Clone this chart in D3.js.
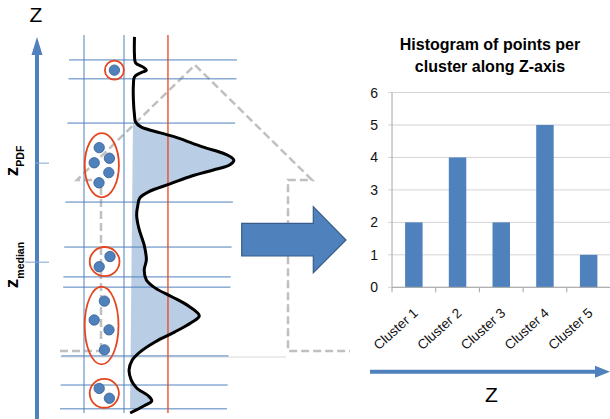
<!DOCTYPE html>
<html>
<head>
<meta charset="utf-8">
<script src="https://cdnjs.cloudflare.com/ajax/libs/d3/7.8.5/d3.min.js"></script>
<style>
body { margin: 0; background: #fff; }
svg { display: block; font-family: "Liberation Sans", Arial, sans-serif; }
</style>
</head>
<body>
<script>

// histogram values
var clusterNames = ["Cluster 1", "Cluster 2", "Cluster 3", "Cluster 4", "Cluster 5"];
var pointCounts = [2, 4, 2, 5, 1];
var countTicks = [0, 1, 2, 3, 4, 5, 6];

// points of each cluster: [z, spread across the column (-1..1)]
var clusterPoints = [
    [[0.65, -0.24], [0.39, 0.27]],
    [[2.96, 0.02], [2.46, -0.49], [2.20, 0.25], [1.67, 0.02]],
    [[4.14, 0.30], [3.87, -0.24]],
    [[7.02, -0.24], [6.62, -0.49], [6.74, 0.27], [6.36, 0.24], [6.09, -0.25]],
    [[9.07, 0.52]]
];

// bin edges of each cluster along z
var clusterBins = [[0.11, 0.74], [1.51, 3.33], [3.60, 4.39], [5.58, 7.67], [8.84, 9.34]];

// PDF sampled along z
var pdfZ = [9.95, 9.47, 9.26, 9.15, 9.07, 8.99, 8.89, 8.68, 8.28, 7.88, 7.70, 7.57, 7.41, 7.28,
            7.04, 6.85, 6.69, 6.56, 6.43, 6.27, 6.06, 5.85, 5.69, 5.48, 5.24, 4.89, 4.44, 4.05,
            3.78, 3.52, 3.31, 3.07, 2.83, 2.57, 2.38, 2.14, 1.88, 1.61, 1.40, 1.14, 0.87, 0.66,
            0.45, 0.32, 0.19, 0.00];
var pdfDensity = [0.06, 0.06, 0.07, 0.14, 0.17, 0.11, 0.06, 0.05, 0.05, 0.06, 0.07, 0.12, 0.30, 0.46,
                  0.69, 0.90, 0.98, 0.94, 0.79, 0.59, 0.39, 0.19, 0.11, 0.09, 0.08, 0.10, 0.15, 0.17,
                  0.15, 0.17, 0.25, 0.41, 0.56, 0.66, 0.58, 0.43, 0.25, 0.11, 0.04, 0.01, 0.03, 0.08,
                  0.19, 0.22, 0.15, 0.02];

var zPdf = 6.61, zMedian = 3.99;
var densityCut = 0.37;
var shadeZ = [0.11, 7.67];
var shadeBase = [0.019, 0.046];

var blue = "#4f81bd", red = "#e5461f", gray = "#c0c0c0";

var svg = d3.select("body").append("svg").attr("width", 610).attr("height", 419);

// ---------- left panel ----------
var z = d3.scaleLinear().domain([0, 10]).range([413, 35]);
var dens = d3.scaleLinear().domain([0, 1]).range([128, 236]);
var spread = d3.scaleLinear().domain([-1, 1]).range([84, 124]);

// dashed outline behind everything
svg.append("line").attr("x1", 60).attr("x2", 286).attr("y1", 357).attr("y2", 357)
    .attr("stroke", "#d9d9d9");
var dash = svg.append("g").attr("fill", "none").attr("stroke", gray)
    .attr("stroke-width", 2.5).attr("stroke-dasharray", "8,4");
dash.append("path").attr("d", "M60,351H101");
dash.append("path").attr("d", "M101,351V180H77L195,65L312,180H288V351H350");

// shaded area under pdf
var baseAt = d3.scaleLinear().domain(shadeZ).range(shadeBase);
var pdf = pdfZ.map((v, i) => ({z: v, d: pdfDensity[i]}));
svg.append("clipPath").attr("id", "shadeclip").append("rect")
    .attr("x", 0).attr("width", 300)
    .attr("y", z(shadeZ[1])).attr("height", z(shadeZ[0]) - z(shadeZ[1]));
svg.append("path")
    .datum(pdf)
    .attr("clip-path", "url(#shadeclip)")
    .attr("fill", "#b9cde5")
    .attr("d", d3.area().curve(d3.curveCatmullRom)
        .y(d => z(d.z))
        .x0(d => dens(baseAt(d.z)))
        .x1(d => dens(Math.max(d.d, baseAt(d.z)))));

// bin lines
var edges = clusterBins.flat();
var slantL = d3.scaleLinear().domain([0.11, 9.34]).range([60, 69]);
var slantR = d3.scaleLinear().domain([0.11, 9.34]).range([227, 237]);
svg.append("g").selectAll("line").data(edges).join("line")
    .attr("x1", d => slantL(d)).attr("x2", d => slantR(d))
    .attr("y1", d => z(d)).attr("y2", d => z(d))
    .attr("stroke", blue).attr("stroke-width", 1);

// column lines
svg.append("g").selectAll("line").data([-1, 1]).join("line")
    .attr("x1", d => spread(d)).attr("x2", d => spread(d))
    .attr("y1", z(10)).attr("y2", z(0))
    .attr("stroke", blue).attr("stroke-width", 1);
svg.append("line")
    .attr("x1", dens(densityCut)).attr("x2", dens(densityCut))
    .attr("y1", z(10)).attr("y2", z(0))
    .attr("stroke", red).attr("stroke-width", 1.3);

// pdf curve
svg.append("path")
    .datum(pdf)
    .attr("fill", "none").attr("stroke", "#000").attr("stroke-width", 3)
    .attr("d", d3.line().curve(d3.curveCatmullRom).y(d => z(d.z)).x(d => dens(d.d)));

// clusters
clusterPoints.forEach(function(pts) {
    var xs = pts.map(p => spread(p[1])), ys = pts.map(p => z(p[0]));
    var x0 = d3.min(xs), x1 = d3.max(xs), y0 = d3.min(ys), y1 = d3.max(ys);
    var hy = (y1 - y0) / 2;
    svg.append("ellipse")
        .attr("cx", (x0 + x1) / 2).attr("cy", (y0 + y1) / 2)
        .attr("rx", (x1 - x0) / 2 + 9.5).attr("ry", hy + (hy > 10 ? 14.5 : 9.5))
        .attr("fill", "none").attr("stroke", red).attr("stroke-width", 1.8);
    svg.append("g").selectAll("circle").data(pts).join("circle")
        .attr("cx", p => spread(p[1])).attr("cy", p => z(p[0])).attr("r", 5.2)
        .attr("fill", blue).attr("stroke", "#385d8a").attr("stroke-width", 0.8);
});

// z axis arrow
svg.append("line").attr("x1", 37).attr("x2", 37).attr("y1", 419).attr("y2", 52)
    .attr("stroke", blue).attr("stroke-width", 4);
svg.append("path").attr("d", "M31.5,55L37,37L42.5,55Z").attr("fill", blue);
svg.append("text").attr("x", 36).attr("y", 22).attr("text-anchor", "middle")
    .attr("font-size", 21).text("Z");

// z_PDF and z_median marks
[[zPdf, "PDF", 13], [zMedian, "median", 26]].forEach(function(m) {
    svg.append("line").attr("x1", m[1] == "PDF" ? 35 : 25).attr("x2", 49)
        .attr("y1", z(m[0])).attr("y2", z(m[0]))
        .attr("stroke", "#7ea3d4").attr("stroke-width", 1);
    var t = svg.append("text")
        .attr("transform", "translate(18," + (z(m[0]) + m[2]) + ") rotate(-90)")
        .attr("font-weight", "bold").attr("font-size", 19).text("z");
    t.append("tspan").attr("dy", 6).attr("font-size", 10.5).text(m[1]);
});

// big arrow
svg.append("path")
    .attr("d", "M241.7,223.3H313.3V206.7L346,240L313.3,272.7V256H241.7Z")
    .attr("fill", blue).attr("stroke", "#385d8a").attr("stroke-width", 1.2);

// ---------- histogram ----------
var x = d3.scaleBand().domain(clusterNames).range([392, 610.5])
    .paddingInner(0.6).paddingOuter(0.3);
var y = d3.scaleLinear().domain([0, 6]).range([287.3, 92.5]);

svg.append("g").selectAll("line").data(countTicks).join("line")
    .attr("x1", 388).attr("x2", 610).attr("y1", d => y(d)).attr("y2", d => y(d))
    .attr("stroke", "#d4d4d4").attr("stroke-width", 1);
svg.append("g").selectAll("text").data(countTicks).join("text")
    .attr("x", 378).attr("y", d => y(d) + 5).attr("text-anchor", "end")
    .attr("font-size", 14).attr("fill", "#111").text(d => d);

svg.append("g").selectAll("rect").data(pointCounts).join("rect")
    .attr("x", (d, i) => x(clusterNames[i])).attr("width", x.bandwidth())
    .attr("y", d => y(d)).attr("height", d => y(0) - y(d))
    .attr("fill", blue);

svg.append("line").attr("x1", 392).attr("x2", 392).attr("y1", y(6)).attr("y2", y(0))
    .attr("stroke", "#a6a6a6");
svg.append("line").attr("x1", 392).attr("x2", 610).attr("y1", y(0)).attr("y2", y(0))
    .attr("stroke", "#a6a6a6");
var bounds = clusterNames.map(c => x(c) - x.step() * x.paddingInner() / 2);
bounds[0] = 392;
svg.append("g").selectAll("line").data(bounds).join("line")
    .attr("x1", d => d).attr("x2", d => d).attr("y1", y(0)).attr("y2", y(0) + 5)
    .attr("stroke", "#a6a6a6");

svg.append("g").selectAll("text").data(clusterNames).join("text")
    .attr("transform", d => "translate(" + (x(d) + x.bandwidth() / 2 + 5) + "," + (y(0) + 27) + ") rotate(-42)")
    .attr("text-anchor", "end").attr("font-size", 13.5).attr("fill", "#111")
    .text(d => d);

svg.append("text").attr("x", 490).attr("y", 50).attr("text-anchor", "middle")
    .attr("font-weight", "bold").attr("font-size", 16).text("Histogram of points per");
svg.append("text").attr("x", 490).attr("y", 72).attr("text-anchor", "middle")
    .attr("font-weight", "bold").attr("font-size", 16).text("cluster along Z-axis");

// bottom Z arrow
svg.append("line").attr("x1", 370).attr("x2", 597).attr("y1", 371.7).attr("y2", 371.7)
    .attr("stroke", blue).attr("stroke-width", 4);
svg.append("path").attr("d", "M595,365.7L610,371.7L595,377.7Z").attr("fill", blue);
svg.append("text").attr("x", 491.5).attr("y", 402).attr("text-anchor", "middle")
    .attr("font-size", 21).text("Z");

</script>
</body>
</html>
